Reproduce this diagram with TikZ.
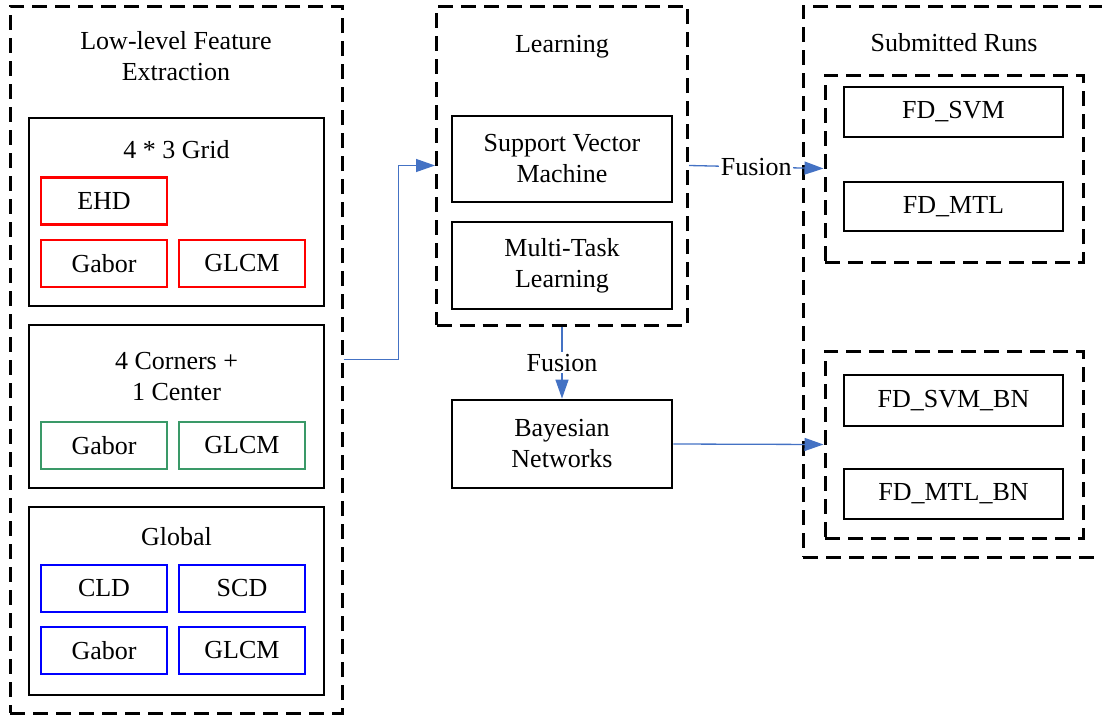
\documentclass[tikz,border=0pt]{standalone}
\usepackage{fontspec}
\setmainfont{Liberation Serif}
\usetikzlibrary{arrows.meta}
\definecolor{linkblue}{RGB}{68,114,196}
\definecolor{featred}{RGB}{255,0,0}
\definecolor{featgreen}{RGB}{58,153,104}
\definecolor{featblue}{RGB}{0,0,255}

\begin{document}
\begin{tikzpicture}[x=1pt,y=-1pt,
  every node/.style={font=\fontsize{26}{31}\selectfont, inner sep=0pt, align=center},
  group/.style={draw, line width=3pt, dash pattern=on 15pt off 8pt, rectangle},
  block/.style={draw, line width=2.8pt, rectangle},
  featbox/.style={draw=#1, line width=2.4pt, rectangle, minimum width=126pt, minimum height=47pt},
  conn/.style={draw=linkblue, line width=1.3pt, -{Triangle[length=19pt,width=13pt]}},
  lbl/.style={fill=white, inner sep=1.5pt}]

\clip (0,0) rectangle (1102,715);

% ---- Low-level feature extraction ----
\node[group, minimum width=332pt, minimum height=707pt] (feat) at (176,359.5) {};
\node (feattitle) at (176,56) {Low-level Feature\\Extraction};

\node[block, minimum width=295pt, minimum height=188pt] (grid) at (176.5,212) {};
\node (gridtitle) at (176.5,150) {4 * 3 Grid};
\node[featbox=featred] (ehd) at (104,201) {EHD};
\node[featbox=featred] (gabA) at (104,263.5) {Gabor};
\node[featbox=featred] (glcmA) at (242,263.5) {GLCM};

\node[block, minimum width=295pt, minimum height=163pt] (corner) at (176.5,406.5) {};
\node (cornertitle) at (176.5,377) {4 Corners +\\1 Center};
\node[featbox=featgreen] (gabB) at (104,445.5) {Gabor};
\node[featbox=featgreen] (glcmB) at (242,445.5) {GLCM};

\node[block, minimum width=295pt, minimum height=188pt] (global) at (176.5,601) {};
\node (globaltitle) at (176.5,537) {Global};
\node[featbox=featblue] (cld) at (104,588.5) {CLD};
\node[featbox=featblue] (scd) at (242,588.5) {SCD};
\node[featbox=featblue] (gabC) at (104,650.5) {Gabor};
\node[featbox=featblue] (glcmC) at (242,650.5) {GLCM};

% ---- Learning ----
\node[group, minimum width=251pt, minimum height=319pt] (learn) at (562,165.5) {};
\node (learntitle) at (562,47) {Learning};
\node[block, minimum width=220pt, minimum height=86pt] (svm) at (562,159) {Support Vector\\Machine};
\node[block, minimum width=220pt, minimum height=87pt] (mtl) at (562,265.5) {Multi-Task\\Learning};

\node[block, minimum width=220pt, minimum height=88pt] (bayes) at (562,444) {Bayesian\\Networks};

% ---- Submitted runs ----
\node[group, minimum width=312pt, minimum height=551pt] (runs) at (959,281.5) {};
\node (runstitle) at (954,43) {Submitted Runs};

\node[group, minimum width=258pt, minimum height=187pt] (runsA) at (954,168.5) {};
\node[block, minimum width=219pt, minimum height=50pt] (fdsvm) at (953.5,112) {FD\_SVM};
\node[block, minimum width=219pt, minimum height=49pt] (fdmtl) at (953.5,206.5) {FD\_MTL};

\node[group, minimum width=258pt, minimum height=187pt] (runsB) at (954,444.5) {};
\node[block, minimum width=219pt, minimum height=51pt] (fdsvmbn) at (953.5,400.5) {FD\_SVM\_BN};
\node[block, minimum width=219pt, minimum height=50pt] (fdmtlbn) at (953.5,494) {FD\_MTL\_BN};

% ---- Connectors ----
\draw[conn] (feat.east) -- ++(55,0) |- (learn.west);
\draw[conn] (learn.east) -- node[lbl] (fusionA) {Fusion} (runsA.west);
\draw[conn] (learn.south) -- node[lbl] (fusionB) {Fusion} (bayes.north);
\draw[conn] (bayes.east) -- (runsB.west);

\end{tikzpicture}
\end{document}
